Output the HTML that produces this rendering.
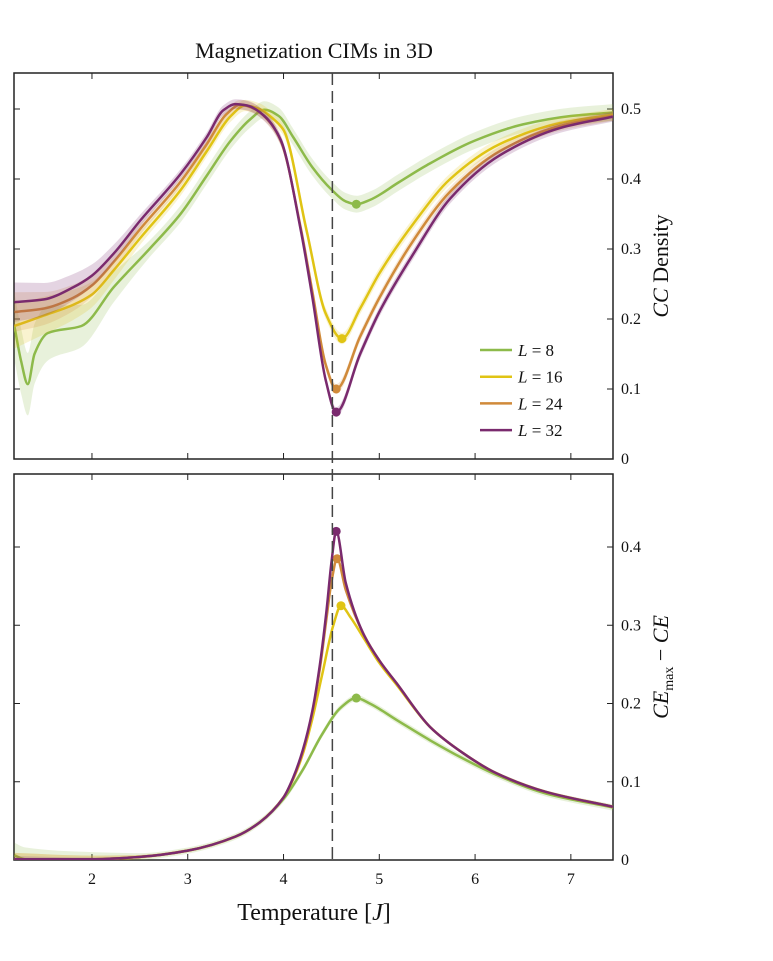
<!DOCTYPE html>
<html><head><meta charset="utf-8"><style>
body{margin:0;background:#fff}
svg text{font-family:"Liberation Serif",serif;fill:#111}
</style></head><body>
<svg id="c" width="773" height="956" xmlns="http://www.w3.org/2000/svg">
<text x="314" y="58" font-size="22" text-anchor="middle">Magnetization CIMs in 3D</text>
<text x="314" y="920" font-size="24" text-anchor="middle">Temperature [<tspan font-style="italic">J</tspan>]</text>
<text transform="translate(668,266) rotate(-90)" font-size="22" text-anchor="middle"><tspan font-style="italic">CC</tspan> Density</text>
<text transform="translate(668,667) rotate(-90)" font-size="22" text-anchor="middle"><tspan font-style="italic">CE</tspan><tspan font-size="14" dy="5">max</tspan><tspan dy="-5"> − </tspan><tspan font-style="italic">CE</tspan></text>
<g id="g"></g>
</svg>
<script>
const tempTicks=[2,3,4,5,6,7];
const topTicks=[0,0.1,0.2,0.3,0.4,0.5];
const botTicks=[0,0.1,0.2,0.3,0.4];
const seriesNames=["L = 8","L = 16","L = 24","L = 32"];
const colors=["#8dba4a","#e0c414","#d08a3a","#7a2a6e"];
const criticalT=4.51;
// top panel (CC density)
const topT8=[1.19,1.26,1.33,1.4,1.54,1.89,2.23,2.6,2.93,3.2,3.45,3.65,3.8,3.95,4.1,4.3,4.5,4.65,4.76,4.9,5.2,5.5,6,6.5,7,7.44];
const topV8=[0.19,0.14,0.107,0.15,0.18,0.19,0.246,0.3,0.351,0.405,0.455,0.485,0.499,0.49,0.46,0.417,0.385,0.368,0.364,0.37,0.395,0.42,0.455,0.478,0.49,0.495];
const topT16=[1.19,1.5,1.8,2.0,2.23,2.5,2.93,3.2,3.45,3.6,3.75,3.9,4.0,4.24,4.44,4.61,4.8,5.0,5.36,5.74,6.26,6.89,7.44];
const topV16=[0.19,0.205,0.22,0.235,0.27,0.315,0.385,0.44,0.49,0.505,0.5,0.485,0.47,0.327,0.208,0.172,0.215,0.265,0.337,0.4,0.45,0.48,0.492];
const topT24=[1.19,1.5,1.8,2.0,2.23,2.5,2.93,3.2,3.4,3.55,3.7,3.85,3.97,4.18,4.3,4.44,4.55,4.8,5.0,5.36,5.74,6.26,6.89,7.44];
const topV24=[0.21,0.215,0.23,0.248,0.282,0.328,0.397,0.45,0.492,0.506,0.5,0.482,0.455,0.33,0.24,0.135,0.1,0.175,0.23,0.313,0.382,0.44,0.476,0.49];
const topT32=[1.19,1.5,1.8,2.0,2.23,2.5,2.93,3.2,3.37,3.5,3.62,3.8,3.97,4.18,4.3,4.44,4.55,4.8,5.0,5.36,5.74,6.26,6.89,7.44];
const topV32=[0.224,0.228,0.245,0.262,0.294,0.34,0.408,0.46,0.498,0.507,0.505,0.49,0.456,0.327,0.232,0.113,0.067,0.15,0.21,0.294,0.372,0.434,0.473,0.489];
const topMinT=[4.76,4.61,4.55,4.55];
const topMinV=[0.364,0.172,0.1,0.067];
// bottom panel (CE_max - CE)
const botT8=[1.19,1.3,2,2.5,3,3.5,3.75,4.0,4.2,4.4,4.6,4.76,4.9,5.18,5.53,5.87,6.22,6.74,7.44];
const botV8=[0.006,0.001,0.001,0.004,0.012,0.03,0.048,0.078,0.115,0.16,0.195,0.207,0.2,0.179,0.153,0.13,0.109,0.085,0.067];
const botT16=[1.19,2,2.5,3,3.5,3.75,4.0,4.1,4.2,4.3,4.4,4.52,4.6,4.7,4.83,5.0,5.18,5.53,5.87,6.22,6.74,7.44];
const botV16=[0.001,0.001,0.004,0.012,0.03,0.048,0.08,0.103,0.135,0.18,0.235,0.3,0.325,0.31,0.285,0.252,0.224,0.17,0.137,0.111,0.087,0.068];
const botT24=[1.19,2,2.5,3,3.5,3.75,4.0,4.1,4.2,4.3,4.38,4.45,4.5,4.56,4.65,4.83,5.0,5.18,5.53,5.87,6.22,6.74,7.44];
const botV24=[0.001,0.001,0.004,0.012,0.03,0.048,0.08,0.104,0.138,0.188,0.245,0.31,0.355,0.385,0.345,0.29,0.255,0.226,0.17,0.137,0.111,0.087,0.068];
const botT32=[1.19,2,2.5,3,3.5,3.75,4.0,4.1,4.2,4.3,4.38,4.45,4.5,4.55,4.65,4.83,5.0,5.18,5.53,5.87,6.22,6.74,7.44];
const botV32=[0.001,0.001,0.004,0.012,0.03,0.048,0.08,0.105,0.14,0.19,0.25,0.32,0.38,0.42,0.354,0.29,0.255,0.226,0.17,0.137,0.111,0.087,0.068];
const botPeakT=[4.76,4.6,4.56,4.55];
const botPeakV=[0.207,0.325,0.385,0.42];

const X0=14,X1=613,T0=1.186,T1=7.44;
const xs=t=>X0+(t-T0)/(T1-T0)*(X1-X0);
const yTop=v=>459-v*700;
const yBot=v=>860-v*782.5;
const NS="http://www.w3.org/2000/svg";
const g=document.getElementById('g');
function mk(tag,attrs,parent){const e=document.createElementNS(NS,tag);for(const k in attrs)e.setAttribute(k,attrs[k]);(parent||g).appendChild(e);return e;}
function tangents(pts){
  const n=pts.length,dx=[],m=[],t=[];
  for(let i=0;i<n-1;i++){dx[i]=pts[i+1][0]-pts[i][0];m[i]=(pts[i+1][1]-pts[i][1])/dx[i];}
  t[0]=m[0];t[n-1]=m[n-2];
  for(let i=1;i<n-1;i++){if(m[i-1]*m[i]<=0)t[i]=0;else{const w1=2*dx[i]+dx[i-1],w2=dx[i]+2*dx[i-1];t[i]=(w1+w2)/(w1/m[i-1]+w2/m[i]);}}
  return {dx,t};
}
function mono(pts){
  const {dx,t}=tangents(pts);let d="M"+pts[0][0]+","+pts[0][1];
  for(let i=0;i<pts.length-1;i++){const h=dx[i]/3;d+=`C${pts[i][0]+h},${pts[i][1]+t[i]*h} ${pts[i+1][0]-h},${pts[i+1][1]-t[i+1]*h} ${pts[i+1][0]},${pts[i+1][1]}`;}
  return d;
}
function monoRev(pts){
  const {dx,t}=tangents(pts);const n=pts.length;let d="L"+pts[n-1][0]+","+pts[n-1][1];
  for(let i=n-2;i>=0;i--){const h=dx[i]/3;d+=`C${pts[i+1][0]-h},${pts[i+1][1]-t[i+1]*h} ${pts[i][0]+h},${pts[i][1]+t[i]*h} ${pts[i][0]},${pts[i][1]}`;}
  return d;
}
function panel(top,bot,ys,ticks,Ts,Vs,mT,mV,name,band){
  mk('rect',{x:X0,y:top,width:X1-X0,height:bot-top,fill:'none',stroke:'#222','stroke-width':1.5,});
  tempTicks.forEach(t=>{const x=xs(t);
    let e=mk('line',{x1:x,x2:x,y1:bot,y2:bot-6,stroke:'#222'});
    e=mk('line',{x1:x,x2:x,y1:top,y2:top+6,stroke:'#222'});
    if(name==='bottom-panel'){e=mk('text',{x:x,y:bot+24,'font-size':16,'text-anchor':'middle'});e.textContent=t;}
  });
  ticks.forEach(v=>{const y=ys(v);
    let e=mk('line',{x1:X1,x2:X1-6,y1:y,y2:y,stroke:'#222'});
    e=mk('line',{x1:X0,x2:X0+6,y1:y,y2:y,stroke:'#222'});
    e=mk('text',{x:X1+8,y:y+5,'font-size':16});e.textContent=v;
  });
  const cp=mk('clipPath',{id:name+'clip'});mk('rect',{x:X0,y:top,width:X1-X0,height:bot-top},cp);
  const gg=mk('g',{'clip-path':`url(#${name}clip)`});
  for(let i=0;i<4;i++){
    const k=t=>band[i]*(1+3*Math.max(0,(2.6-t)/1.4));
    const pts=Ts[i].map((t,j)=>[xs(t),ys(Vs[i][j])]);
    const up=Ts[i].map((t,j)=>[xs(t),ys(Vs[i][j]+k(t))]);
    const dn=Ts[i].map((t,j)=>[xs(t),ys(Vs[i][j]-k(t))]);
    let e=mk('path',{d:mono(up)+monoRev(dn)+'Z',fill:colors[i],opacity:0.2},gg);
    
    e=mk('path',{d:mono(pts),fill:'none',stroke:colors[i],'stroke-width':2.5},gg);
    
    e=mk('circle',{cx:xs(mT[i]),cy:ys(mV[i]),r:4.5,fill:colors[i]},gg);
    
  }
}
panel(73,459,yTop,topTicks,[topT8,topT16,topT24,topT32],[topV8,topV16,topV24,topV32],topMinT,topMinV,'top-panel',[0.012,0.008,0.007,0.007]);
panel(474,860,yBot,botTicks,[botT8,botT16,botT24,botT32],[botV8,botV16,botV24,botV32],botPeakT,botPeakV,'bottom-panel',[0.004,0.002,0.002,0.001]);
let d=mk('line',{x1:xs(criticalT),x2:xs(criticalT),y1:73,y2:860,stroke:'#444','stroke-width':1.5,'stroke-dasharray':'12,6'});

seriesNames.forEach((n,i)=>{const y=350+i*26.7;
  let e=mk('line',{x1:480,x2:512,y1:y,y2:y,stroke:colors[i],'stroke-width':2.5});
  e=mk('text',{x:518,y:y+6,'font-size':17});e.innerHTML=`<tspan font-style="italic">L</tspan> = ${n.split('= ')[1]}`;
});
</script>
</body></html>
